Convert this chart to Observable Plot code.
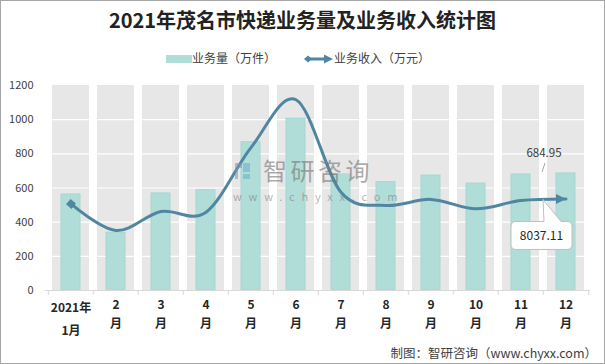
<!DOCTYPE html>
<html><head><meta charset="utf-8">
<script src="https://cdn.jsdelivr.net/npm/d3@7"></script>
<script src="https://cdn.jsdelivr.net/npm/@observablehq/plot@0.6"></script>
<style>
body{margin:0;background:#fff;font-family:"Noto Sans CJK SC","Noto Sans",sans-serif;}
#wrap{position:relative;width:605px;height:364px;overflow:hidden;background:#fff;}
#chart{position:absolute;left:0;top:0;}
.abs{position:absolute;white-space:nowrap;}
#title{left:0;width:605px;top:6px;text-align:center;font-size:20px;font-weight:bold;color:#222;line-height:28px;}
.leg{top:49px;font-size:12px;color:#404040;line-height:18px;}
#caption{right:8px;top:344px;font-size:12.5px;color:#404040;line-height:18px;}
#wm1{left:263px;top:158px;font-size:24px;color:rgba(115,115,115,0.6);line-height:24px;letter-spacing:3.5px;}
#wm2{left:233px;top:191px;font-size:11px;color:rgba(115,115,115,0.55);line-height:11px;letter-spacing:6.8px;}
#logo{left:234px;top:161px;}
#border{position:absolute;left:0;top:0;width:605px;height:364px;box-sizing:border-box;border:1px solid #a6a6a6;pointer-events:none;}
</style></head>
<body>
<div id="wrap">
  <div id="chart"></div>
  <div id="title" class="abs">2021年茂名市快递业务量及业务收入统计图</div>
  <div class="abs leg" style="left:166px;"><span style="display:inline-block;width:26px;height:8px;background:#b1ddd9;vertical-align:middle;margin-top:-2px;"></span>业务量（万件）</div>
  <div class="abs leg" style="left:304px;"><svg width="30" height="10" style="vertical-align:middle;margin-top:-2px;"><line x1="4" y1="5" x2="24" y2="5" stroke="#4f87a1" stroke-width="3"/><path d="M0,5L4,1.5L8,5L4,8.5z" fill="#4f87a1"/><path d="M20,0.5L29,5L20,9.5z" fill="#4f87a1"/></svg>业务收入（万元）</div>
  <svg id="logo" class="abs" width="18" height="20"><path d="M1,2h7v5h-4v11h-3z" fill="rgba(120,150,175,0.55)"/><path d="M9,2h7v9h-7z M9,13h7v5h-7z" fill="rgba(100,170,200,0.5)"/></svg>
  <div id="wm1" class="abs">智研咨询</div>
  <div id="wm2" class="abs">www.chyxx.com</div>
  <div id="caption" class="abs">制图：智研咨询（www.chyxx.com）</div>
  <div id="border"></div>
</div>
<script>
const months = ["1月","2月","3月","4月","5月","6月","7月","8月","9月","10月","11月","12月"];
const topLabels = ["2021年","2","3","4","5","6","7","8","9","10","11","12"];
const bottomLabels = ["1月","月","月","月","月","月","月","月","月","月","月","月"];
const volume = [562, 338, 568, 587, 868, 1006, 679, 634, 673, 626, 679, 684.95];
const revenue = [7600, 5270, 6930, 6870, 12550, 16750, 8630, 7470, 8000, 7170, 7900, 8037.11];
const yTicks = [0, 200, 400, 600, 800, 1000, 1200];
const volumeMax = 1200;
const revenueMax = 18000;

const rows = months.map((m, i) => ({
  month: m, volume: volume[i], revenue: revenue[i],
  revScaled: revenue[i] * volumeMax / revenueMax,
  top: topLabels[i], bottom: bottomLabels[i]
}));

const lineColor = "#4f87a1";
const W = 605, H = 364, mL = 45, mR = 15, mT = 85, mB = 74;
const bandW = (W - mL - mR) / months.length;

function squareMarker(color) {
  const m = d3.create("svg:marker")
    .attr("viewBox", "-5 -5 10 10").attr("markerWidth", 10).attr("markerHeight", 10)
    .attr("markerUnits", "userSpaceOnUse").attr("orient", "auto")
    .attr("fill", color).attr("stroke", "none");
  m.append("path").attr("d", "M-3.5,-3.5h7v7h-7z");
  return m.node();
}
function arrowMarker(color) {
  const m = d3.create("svg:marker")
    .attr("viewBox", "-11 -6 12 12").attr("markerWidth", 12).attr("markerHeight", 12)
    .attr("markerUnits", "userSpaceOnUse").attr("orient", "auto")
    .attr("fill", color).attr("stroke", "none");
  m.append("path").attr("d", "M-10,-5L0,0L-10,5z");
  return m.node();
}

function callout(index, scales, values, dimensions) {
  const {x, y} = scales;
  const bw = x.bandwidth ? x.bandwidth() : 0;
  const off = Math.abs(x(months[0]) - dimensions.marginLeft) < 1 ? bw / 2 : 0;
  const d = rows[rows.length - 1];
  const px = x(d.month) + off;
  const py = y(d.revScaled);
  const by = y(d.volume);
  const g = d3.create("svg:g");
  g.append("line").attr("x1", px + 2).attr("y1", by - 10).attr("x2", px - 1).attr("y2", by - 1)
    .attr("stroke", "#a6a6a6").attr("stroke-width", 1);
  g.append("text").attr("x", px + 1).attr("y", by - 16).attr("text-anchor", "middle")
    .attr("font-size", 11.5).attr("fill", "#404040").text(d.volume.toFixed(2));
  const bx0 = px - 32, bx1 = px + 29, bt = py + 23, bb = py + 51, r = 5;
  const path = `M${bx0 + r},${bt} L${px + 1},${bt} L${px},${py + 1} L${px + 18},${bt} L${bx1 - r},${bt} Q${bx1},${bt} ${bx1},${bt + r} L${bx1},${bb - r} Q${bx1},${bb} ${bx1 - r},${bb} L${bx0 + r},${bb} Q${bx0},${bb} ${bx0},${bb - r} L${bx0},${bt + r} Q${bx0},${bt} ${bx0 + r},${bt} Z`;
  g.append("path").attr("d", path).attr("fill", "#fff").attr("stroke", "#bfbfbf").attr("stroke-width", 1);
  g.append("text").attr("x", (bx0 + bx1) / 2).attr("y", (bt + bb) / 2 + 4.5).attr("text-anchor", "middle")
    .attr("font-size", 12).attr("fill", "#262626").text(d.revenue.toFixed(2));
  return g.node();
}

const chart = Plot.plot({
  width: W, height: H, marginTop: mT, marginBottom: mB, marginLeft: mL, marginRight: mR,
  style: {background: "transparent", fontFamily: '"Noto Sans CJK SC","Noto Sans",sans-serif', fontSize: "11px", color: "#404040"},
  x: {domain: months, padding: 0, axis: null},
  y: {domain: [0, volumeMax], ticks: yTicks, tickSize: 0, tickPadding: 12, label: null, tickFormat: d => String(d)},
  marks: [
    Plot.barY(rows, {x: "month", y: () => volumeMax, fill: "#e7e7e7", insetLeft: 4, insetRight: 4}),
    Plot.ruleY(yTicks.filter(d => d > 0 && d < volumeMax), {stroke: "#fff", strokeWidth: 1.2}),
    Plot.barY(rows, {x: "month", y: "volume", fill: "#b1ddd9", stroke: "#a4d7d2", strokeWidth: 1, insetLeft: 13, insetRight: 13}),
    Plot.ruleY([0], {stroke: "#d9d9d9"}),
    Plot.ruleX(months, {x: d => d, y1: 0, y2: 0, insetBottom: -5, dx: -bandW / 2, stroke: "#d9d9d9"}),
    Plot.ruleX(months.slice(-1), {x: d => d, y1: 0, y2: 0, insetBottom: -5, dx: bandW / 2, stroke: "#d9d9d9"}),
    Plot.text(rows.slice(0, 1), {x: "month", text: "top", frameAnchor: "bottom", dy: 21, fontWeight: "bold", fontSize: 12, fill: "#262626"}),
    Plot.text(rows.slice(0, 1), {x: "month", text: "bottom", frameAnchor: "bottom", dy: 44, fontWeight: "bold", fontSize: 12, fill: "#262626"}),
    Plot.text(rows.slice(1), {x: "month", text: "top", frameAnchor: "bottom", dy: 18, fontWeight: "bold", fontSize: 12, fill: "#262626"}),
    Plot.text(rows.slice(1), {x: "month", text: "bottom", frameAnchor: "bottom", dy: 37, fontWeight: "bold", fontSize: 12, fill: "#262626"}),
    Plot.line(rows, {x: "month", y: "revScaled", stroke: lineColor, strokeWidth: 3, curve: "cardinal", markerStart: squareMarker, markerEnd: arrowMarker}),
    callout
  ]
});
document.getElementById("chart").appendChild(chart);
</script>
</body></html>
